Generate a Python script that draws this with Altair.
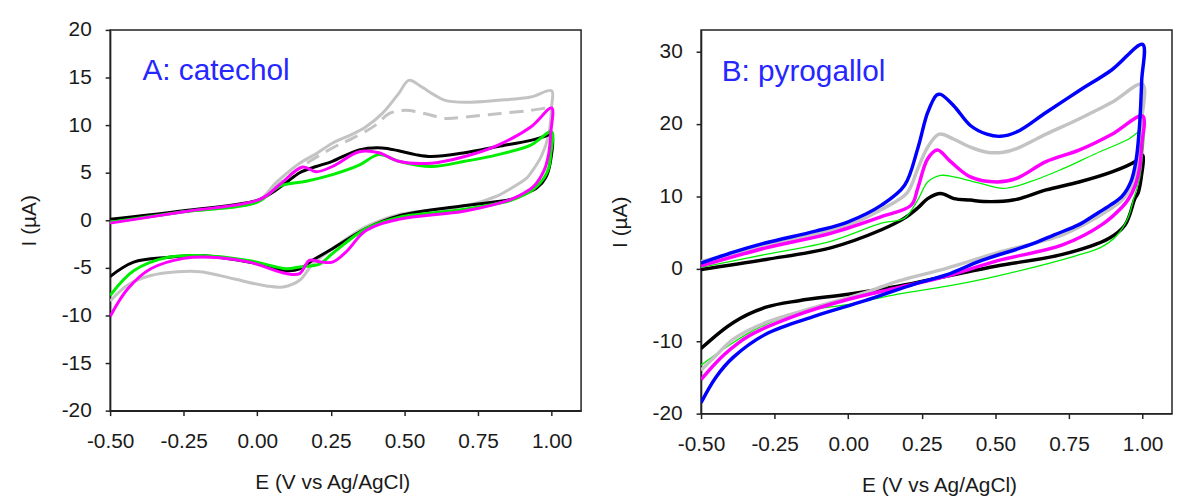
import altair as alt
import pandas as pd

# ---------------- data: panel A (catechol) ----------------
A_GRAY_E = [-0.5, -0.25, 0.0, 0.065, 0.144, 0.2, 0.255, 0.32, 0.368, 0.424, 0.48, 0.515, 0.559, 0.6, 0.638, 0.705, 0.818, 0.929, 1.0,
            1.0, 0.99, 0.966, 0.93, 0.914, 0.848, 0.818, 0.705, 0.48, 0.368, 0.255, 0.188, 0.144, 0.087, 0.031, -0.081, -0.193, -0.272, -0.362, -0.44, -0.5]
A_GRAY_I = [-0.2, 0.9, 2.0, 4.0, 6.0, 7.0, 8.1, 9.0, 9.8, 11.2, 13.3, 14.7, 14.0, 13.2, 12.6, 12.4, 12.6, 12.95, 13.6,
            12.0, 9.0, 6.8, 5.0, 4.4, 3.1, 2.6, 1.5, 0.6, -0.7, -3.0, -4.6, -6.3, -7.0, -6.9, -6.15, -5.4, -5.4, -5.8, -6.8, -8.5]

A_GRAYD_E = [0.05, 0.144, 0.255, 0.323, 0.402, 0.447, 0.503, 0.571, 0.638, 0.705, 0.818, 0.929, 1.0]
A_GRAYD_I = [3.3, 5.5, 7.6, 8.6, 10.0, 11.2, 11.55, 11.2, 10.7, 10.85, 11.2, 11.55, 11.9]

A_BLACK_E = [-0.5, -0.25, 0.0, 0.05, 0.1, 0.144, 0.2, 0.255, 0.346, 0.424, 0.48, 0.537, 0.592, 0.705, 0.818, 0.929, 0.975, 1.0,
             0.995, 0.98, 0.95, 0.9, 0.862, 0.694, 0.48, 0.368, 0.255, 0.188, 0.144, 0.104, -0.025, -0.193, -0.306, -0.42, -0.5]
A_BLACK_I = [0.1, 1.0, 2.1, 2.9, 4.0, 5.0, 5.65, 6.2, 7.4, 7.6, 7.3, 6.9, 6.7, 7.1, 7.75, 8.4, 8.8, 9.0,
             6.0, 4.5, 3.4, 2.7, 2.2, 1.5, 0.45, -0.9, -3.0, -4.2, -5.1, -5.3, -4.4, -3.7, -3.9, -4.4, -5.9]

A_GREEN_E = [-0.5, -0.25, 0.0, 0.076, 0.166, 0.255, 0.346, 0.413, 0.48, 0.592, 0.705, 0.818, 0.929, 1.0,
             0.997, 0.99, 0.975, 0.94, 0.908, 0.862, 0.705, 0.48, 0.368, 0.255, 0.211, 0.144, 0.099, -0.025, -0.193, -0.306, -0.42, -0.5]
A_GREEN_I = [-0.2, 0.9, 1.9, 3.6, 4.1, 4.8, 5.8, 6.9, 6.2, 5.65, 6.2, 6.9, 7.9, 9.3,
             7.0, 5.5, 4.5, 3.3, 2.7, 2.1, 1.15, 0.3, -0.9, -3.5, -4.6, -4.9, -5.1, -4.25, -3.7, -3.9, -5.3, -7.9]

A_MAG_E = [-0.5, -0.25, 0.009, 0.076, 0.154, 0.2, 0.255, 0.346, 0.413, 0.48, 0.592, 0.705, 0.818, 0.929, 1.0,
           0.997, 0.99, 0.975, 0.94, 0.908, 0.862, 0.705, 0.48, 0.368, 0.301, 0.255, 0.211, 0.177, 0.144, 0.099, -0.025, -0.137, -0.25, -0.362, -0.44, -0.5]
A_MAG_I = [-0.3, 0.9, 2.2, 3.75, 5.6, 5.1, 5.65, 7.2, 7.1, 6.2, 6.0, 6.7, 7.9, 9.8, 11.8,
           9.2, 7.0, 5.3, 3.6, 2.9, 2.2, 0.97, 0.1, -1.1, -3.35, -4.4, -4.35, -4.2, -5.6, -5.6, -4.4, -3.9, -4.0, -5.1, -7.2, -10.1]

# ---------------- data: panel B (pyrogallol) ----------------
B_BLACK_E = [-0.5, -0.279, -0.06, 0.113, 0.191, 0.236, 0.27, 0.314, 0.359, 0.415, 0.46, 0.56, 0.672, 0.784, 0.896, 0.974, 1.0,
             0.995, 0.985, 0.974, 0.941, 0.885, 0.728, 0.505, 0.336, 0.169, 0.001, -0.167, -0.279, -0.39, -0.5]
B_BLACK_I = [-0.1, 1.3, 2.9, 5.4, 7.0, 8.4, 9.7, 10.4, 9.7, 9.5, 9.3, 9.5, 10.9, 12.0, 13.4, 14.8, 15.7,
             12.5, 10.5, 9.7, 6.1, 4.2, 2.0, 0.4, -1.0, -2.4, -3.5, -4.4, -5.3, -7.4, -11.0]

B_GREEN_E = [-0.5, -0.279, -0.06, 0.113, 0.191, 0.236, 0.27, 0.314, 0.359, 0.449, 0.527, 0.616, 0.728, 0.84, 0.952, 1.0,
             0.998, 0.99, 0.97, 0.95, 0.91, 0.86, 0.773, 0.505, 0.336, 0.169, 0.001, -0.167, -0.312, -0.413, -0.5]
B_GREEN_I = [0.2, 2.0, 3.8, 6.3, 7.0, 9.5, 12.0, 12.9, 12.7, 11.8, 11.1, 12.0, 13.8, 15.9, 17.9, 19.1,
             15.0, 12.5, 9.7, 7.0, 4.5, 3.0, 1.8, -1.0, -2.4, -3.5, -4.9, -6.0, -8.3, -10.8, -13.3]

B_GRAY_E = [-0.5, -0.279, 0.0, 0.113, 0.2, 0.236, 0.27, 0.309, 0.359, 0.415, 0.471, 0.527, 0.572, 0.672, 0.784, 0.896, 1.0,
            0.995, 0.99, 0.97, 0.93, 0.88, 0.84, 0.728, 0.505, 0.336, 0.169, 0.057, -0.111, -0.279, -0.39, -0.45, -0.5]
B_GRAY_I = [1.0, 3.2, 6.0, 8.2, 10.5, 13.8, 16.8, 18.6, 17.9, 16.8, 16.1, 16.1, 16.6, 18.6, 20.7, 23.0, 25.5,
            20.0, 17.0, 12.0, 9.5, 8.0, 7.0, 4.7, 2.2, 0.1, -1.7, -3.3, -5.3, -7.4, -9.7, -12.0, -14.0]

B_MAG_E = [-0.5, -0.279, -0.06, 0.113, 0.214, 0.236, 0.27, 0.303, 0.348, 0.415, 0.505, 0.572, 0.672, 0.784, 0.896, 1.0,
           0.997, 0.99, 0.975, 0.95, 0.93, 0.862, 0.728, 0.505, 0.336, 0.169, 0.001, -0.167, -0.335, -0.42, -0.5]
B_MAG_I = [0.4, 2.9, 4.9, 7.2, 8.8, 11.1, 15.2, 16.4, 14.8, 12.7, 12.0, 12.5, 14.8, 16.4, 18.6, 21.1,
           17.0, 14.0, 11.5, 9.5, 8.5, 6.1, 3.3, 1.1, -1.0, -2.6, -4.2, -6.3, -9.2, -11.8, -15.3]

B_BLUE_E = [-0.5, -0.39, -0.279, -0.111, 0.0, 0.113, 0.191, 0.236, 0.27, 0.3, 0.314, 0.359, 0.415, 0.471, 0.516, 0.572, 0.672, 0.784, 0.896, 1.0,
            0.997, 0.99, 0.978, 0.96, 0.93, 0.89, 0.84, 0.784, 0.7, 0.616, 0.449, 0.336, 0.225, 0.057, -0.111, -0.279, -0.39, -0.45, -0.5]
B_BLUE_I = [0.8, 2.3, 3.6, 5.2, 6.5, 8.8, 11.5, 16.6, 21.6, 24.0, 24.1, 22.5, 19.8, 18.6, 18.3, 18.9, 21.6, 24.6, 27.5, 31.0,
            26.0, 20.0, 15.0, 12.0, 10.0, 8.8, 7.5, 6.1, 4.7, 3.3, 1.1, -0.8, -2.1, -4.4, -6.5, -9.0, -12.2, -15.0, -18.5]

# ---------------- text / ticks ----------------
X_TICKS = [-0.5, -0.25, 0.0, 0.25, 0.5, 0.75, 1.0]
A_Y_TICKS = [-20, -15, -10, -5, 0, 5, 10, 15, 20]
B_Y_TICKS = [-20, -10, 0, 10, 20, 30]
X_TITLE = "E (V vs Ag/AgCl)"
Y_TITLE = "I (µA)"
A_LABEL = ["A: catechol"]
A_LABEL_E = [-0.39]
A_LABEL_I = [14.7]
B_LABEL = ["B: pyrogallol"]
B_LABEL_E = [-0.43]
B_LABEL_I = [25.9]

FONT = "Liberation Sans"
LABEL_EXPR_X = "(datum.value < 0 ? '-' : '') + format(abs(datum.value), '.2f')"
LABEL_EXPR_Y = "(datum.value < 0 ? '-' : '') + format(abs(datum.value), 'd')"


def series(E, I):
    return pd.DataFrame({"E": E, "I": I, "k": list(range(len(E)))})


def x_enc(title_x):
    return alt.X("E:Q", scale=alt.Scale(domain=[-0.5, 1.1], nice=False, zero=False),
                 axis=alt.Axis(values=X_TICKS, title=X_TITLE, labelExpr=LABEL_EXPR_X, grid=False,
                               labelFlush=False, labelOverlap=False,
                               tickSize=5, labelPadding=15, titleX=title_x, titleY=79,
                               titleAlign="center", titleBaseline="alphabetic"))


def y_enc(domain, ticks):
    return alt.Y("I:Q", scale=alt.Scale(domain=domain, nice=False, zero=False),
                 axis=alt.Axis(values=ticks, title=Y_TITLE, labelExpr=LABEL_EXPR_Y, grid=False,
                               labelFlush=False, labelOverlap=False,
                               tickSize=5, labelPadding=14, titleX=-81, titleBaseline="middle",
                               titleAlign="center"))


def panel(curves, label, label_e, label_i, domain, ticks, w, h, title_x):
    layers = []
    for E, I, color, width, dash in curves:
        kw = dict(color=color, strokeWidth=width, interpolate="catmull-rom", clip=True)
        if dash:
            kw["strokeDash"] = dash
        layers.append(
            alt.Chart(series(E, I)).mark_line(**kw).encode(
                x=x_enc(title_x), y=y_enc(domain, ticks), order="k:Q")
        )
    txt = alt.Chart(pd.DataFrame({"t": label, "E": label_e, "I": label_i})).mark_text(
        align="left", baseline="alphabetic", font=FONT, fontSize=30, color="#2626ff"
    ).encode(x=x_enc(title_x), y=y_enc(domain, ticks), text="t:N")
    layers.append(txt)
    return alt.layer(*layers).properties(width=w, height=h)


GRAY = "#c3c3c3"
left = panel([
    (A_GRAY_E, A_GRAY_I, GRAY, 3, None),
    (A_GRAYD_E, A_GRAYD_I, GRAY, 3, [14, 8]),
    (A_BLACK_E, A_BLACK_I, "#000000", 3, None),
    (A_GREEN_E, A_GREEN_I, "#00ee00", 3, None),
    (A_MAG_E, A_MAG_I, "#ff00ff", 3, None),
], A_LABEL, A_LABEL_E, A_LABEL_I, [-20, 20], A_Y_TICKS, 475, 384, 224)

right = panel([
    (B_BLACK_E, B_BLACK_I, "#000000", 3.5, None),
    (B_GREEN_E, B_GREEN_I, "#00ee00", 1.3, None),
    (B_GRAY_E, B_GRAY_I, GRAY, 3.5, None),
    (B_MAG_E, B_MAG_I, "#ff00ff", 3.5, None),
    (B_BLUE_E, B_BLUE_I, "#0000ff", 3.5, None),
], B_LABEL, B_LABEL_E, B_LABEL_I, [-20, 33], B_Y_TICKS, 475, 387, 240)

chart = alt.hconcat(left, right, spacing=121, bounds="flush").properties(
    padding={"left": 10, "top": 8, "right": 0, "bottom": 0},
    background="white"
).configure_view(stroke="#222222", strokeWidth=1.5).configure_axis(
    labelFont=FONT, titleFont=FONT, labelFontSize=21, titleFontSize=21,
    labelColor="#1a1a1a", titleColor="#1a1a1a", titleFontWeight="normal",
    domainColor="#222222", domainWidth=1.5, tickColor="#222222", tickWidth=1.5
)

chart.save("out.html", embed_options={"renderer": "svg", "actions": False})
